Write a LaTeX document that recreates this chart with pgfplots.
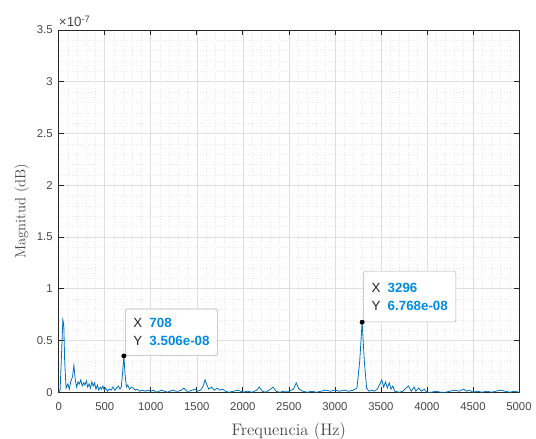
\documentclass[border=0pt]{standalone}
\usepackage{pgfplots}
\pgfplotsset{compat=1.18}
\usepackage{fontspec}
\newfontfamily\arialfont{Liberation Sans}
\definecolor{mblue}{RGB}{0,114,189}
\definecolor{tipblue}{RGB}{0,140,225}
\definecolor{axgray}{RGB}{38,38,38}
\newcommand{\tipline}[2]{\makebox[12pt][l]{#1}\textcolor{tipblue}{\bfseries #2}}
\begin{document}
\begin{tikzpicture}
\begin{axis}[
  scale only axis,
  width=345pt, height=271.5pt,
  at={(0,0)}, anchor=south west,
  xmin=0, xmax=5000, ymin=0, ymax=3.5,
  xtick={0,500,...,5000},
  ytick={0,0.5,...,3.5},
  yticklabels={0,0.5,1,1.5,2,2.5,3,3.5},
  minor x tick num=4, minor y tick num=4,
  grid=both,
  major grid style={gray!25, line width=0.4pt},
  minor grid style={gray!20, dotted, line width=0.4pt},
  tick align=inside,
  major tick length=4pt, minor tick length=0pt,
  axis line style={axgray, line width=0.5pt},
  tick style={axgray, line width=0.5pt},
  scaled x ticks=false,
  /pgf/number format/assume math mode=true,
  /pgf/number format/1000 sep={},
  ticklabel style={font=\arialfont\fontsize{8.5}{10}\selectfont, text=axgray!85},
  xticklabel style={yshift=-4pt},
  yticklabel style={xshift=-1pt},
  xlabel={Frequencia (Hz)},
  ylabel={Magnitud (dB)},
  xlabel style={font=\fontsize{12.5}{15}\selectfont, text=axgray!85, yshift=-3pt},
  ylabel style={font=\fontsize{11}{13}\selectfont, text=axgray!85, yshift=-1pt},
  clip=false,
]
\addplot[mblue, line width=0.6pt] coordinates {
(0,0.00) (15,0.02) (30,0.35) (45,0.70) (55,0.66) (65,0.30) (80,0.04) (100,0.08)
(115,0.03) (130,0.10) (150,0.15) (165,0.26) (180,0.12) (195,0.05) (210,0.10)
(225,0.08) (240,0.12) (255,0.06) (270,0.09) (285,0.07) (300,0.11) (315,0.05)
(330,0.08) (345,0.04) (360,0.10) (375,0.06) (390,0.09) (405,0.03) (420,0.07)
(435,0.02) (450,0.05) (465,0.03) (480,0.06) (495,0.02) (510,0.04) (530,0.01)
(550,0.03) (570,0.02) (590,0.05) (610,0.02) (630,0.04) (650,0.06) (665,0.03)
(680,0.05) (695,0.20) (708,0.3506) (720,0.18) (735,0.05) (750,0.07) (770,0.03)
(790,0.05) (810,0.04) (830,0.02) (850,0.03) (880,0.01) (910,0.02) (940,0.01)
(970,0.02) (1000,0.01) (1030,0.02) (1060,0.00) (1090,0.01) (1120,0.02) (1150,0.01)
(1180,0.00) (1210,0.01) (1240,0.02) (1270,0.01) (1300,0.01) (1330,0.02) (1360,0.04)
(1390,0.01) (1420,0.01) (1450,0.02) (1480,0.03) (1510,0.01) (1540,0.02) (1570,0.06)
(1590,0.12) (1610,0.07) (1630,0.03) (1660,0.05) (1690,0.02) (1720,0.04) (1750,0.02)
(1780,0.03) (1810,0.01) (1850,0.00) (1900,0.01) (1950,0.02) (2000,0.00) (2050,0.01)
(2100,0.00) (2150,0.02) (2180,0.05) (2210,0.01) (2250,0.00) (2300,0.03) (2330,0.05)
(2360,0.01) (2400,0.00) (2450,0.01) (2500,0.01) (2550,0.03) (2580,0.09) (2610,0.03)
(2650,0.01) (2700,0.00) (2750,0.01) (2800,0.00) (2850,0.01) (2900,0.02) (2950,0.01)
(3000,0.02) (3050,0.01) (3100,0.02) (3150,0.01) (3200,0.02) (3240,0.04) (3270,0.30)
(3296,0.6768) (3320,0.30) (3345,0.04) (3370,0.01) (3400,0.02) (3430,0.01) (3460,0.03)
(3490,0.08) (3510,0.12) (3530,0.05) (3550,0.10) (3570,0.04) (3590,0.09) (3610,0.03)
(3630,0.06) (3650,0.01) (3700,0.00) (3740,0.01) (3770,0.04) (3800,0.06) (3830,0.01)
(3860,0.05) (3880,0.01) (3910,0.04) (3940,0.01) (3970,0.03) (4000,0.00) (4050,0.00)
(4100,0.01) (4150,0.00) (4200,0.00) (4250,0.01) (4300,0.02) (4350,0.01) (4400,0.03)
(4430,0.01) (4460,0.02) (4500,0.00) (4550,0.01) (4600,0.00) (4650,0.01) (4700,0.00)
(4750,0.01) (4800,0.02) (4850,0.01) (4900,0.00) (4950,0.01) (5000,0.00)
};
\addplot[only marks, mark=*, mark size=1.6pt, black] coordinates {(708,0.3506) (3296,0.6768)};
\node[anchor=south west, draw=gray!60, fill=white, rounded corners=1pt,
      minimum width=69pt, minimum height=35pt, inner xsep=4.5pt, inner ysep=3pt, align=left,
      font=\arialfont\fontsize{10}{13.5}\selectfont, text=axgray, xshift=1pt]
  at (axis cs:708,0.3506) {\tipline{X}{708}\\\tipline{Y}{3.506e-08}};
\node[anchor=south west, draw=gray!60, fill=white, rounded corners=1pt,
      minimum width=69pt, minimum height=38pt, inner xsep=4.5pt, inner ysep=3pt, align=left,
      font=\arialfont\fontsize{10}{13.5}\selectfont, text=axgray, xshift=1pt]
  at (axis cs:3296,0.6768) {\tipline{X}{3296}\\\tipline{Y}{6.768e-08}};
\node[anchor=south west, inner sep=0pt, font=\arialfont\fontsize{10}{12}\selectfont, text=axgray!85]
  at (rel axis cs:0,1) [yshift=2pt] {×10\textsuperscript{-7}};
\end{axis}
\pgfresetboundingbox
\path (-44pt,-34.5pt) rectangle (357.75pt,294pt);
\end{tikzpicture}
\end{document}
